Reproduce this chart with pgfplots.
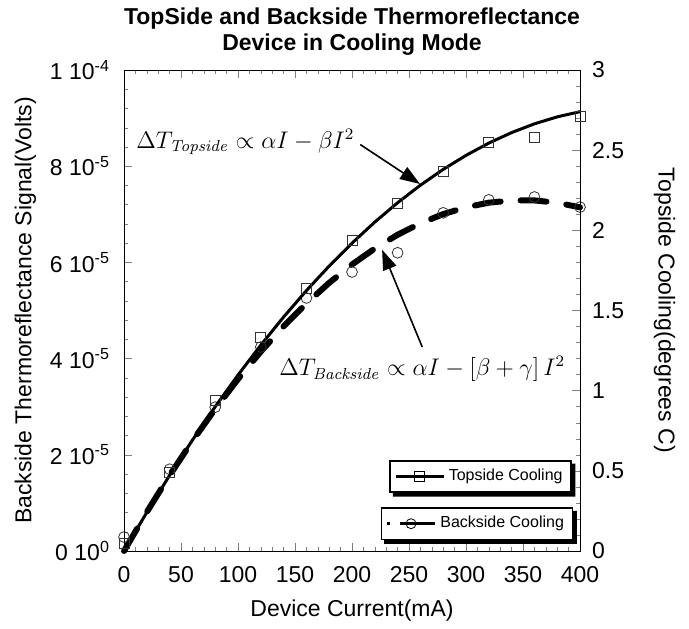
\documentclass[border=0pt]{standalone}
\usepackage[no-math]{fontspec}
\setmainfont{Liberation Sans}
\usepackage{pgfplots}
\pgfplotsset{compat=1.18}
\usetikzlibrary{arrows.meta}

% shared look of the two stacked axes
\pgfplotsset{
  twin/.style={
    scale only axis, width=228pt, height=240.5pt,
    xmin=0, xmax=400, clip=false,
    tick align=inside,
    major tick length=4pt, minor tick length=2pt,
    every tick label/.append style={font=\fontsize{11.5}{13}\selectfont},
    label style={font=\fontsize{11.5}{13}\selectfont},
    /pgf/number format/assume math mode=true,
    legend style={font=\fontsize{8}{9.6}\selectfont, draw=black, line width=0.8pt,
      fill=white, legend cell align=left, inner sep=2.2pt},
    legend image code/.code={\draw[mark repeat=2,mark phase=2,##1]
      plot coordinates {(0cm,0cm) (0.42cm,0cm) (0.84cm,0cm)};},
  },
}
% black offset strips along the right and lower edges of a legend box
\newcommand\legshadow[1]{%
  \fill[black] ([shift={(1.8pt,-1.8pt)}]#1.south west) -- ([shift={(1.8pt,-1.8pt)}]#1.south east)
    -- ([shift={(1.8pt,-1.8pt)}]#1.north east) -- ([yshift=-1.8pt]#1.north east)
    -- (#1.south east) -- ([xshift=1.8pt]#1.south west) -- cycle;}

\begin{document}
\begin{tikzpicture}
% left axis: backside signal, in units of 1e-5 V
\begin{axis}[twin,
  ymin=0, ymax=10, ytick={0,2,4,6,8,10},
  yticklabels={0 10\textsuperscript{0}, 2 10\textsuperscript{-5}, 4 10\textsuperscript{-5},
    6 10\textsuperscript{-5}, 8 10\textsuperscript{-5}, 1 10\textsuperscript{-4}},
  yticklabel style={xshift=-3.5pt},
  xticklabel style={yshift=-4pt},
  ytick pos=left, xtick={0,50,...,400}, xtick pos=both,
  minor x tick num=4, minor y tick num=4,
  xlabel={Device Current(mA)},
  xlabel style={yshift=-2pt},
  ylabel={Backside Thermoreflectance Signal(Volts)},
  title={TopSide and Backside Thermoreflectance\\Device in Cooling Mode},
  title style={align=center, yshift=-2pt, font=\bfseries\fontsize{11.5}{12.8}\selectfont},
  legend style={at={(0.985,0.091)}, anchor=north east, name=legB},
]
\path (rel axis cs:-0.272,-0.162) rectangle (rel axis cs:1.239,1.1455);
% fit curve
\addplot[black, line width=3pt, line cap=round, dash pattern=on 13pt off 10pt, forget plot]
  coordinates {
  (0,0) (20,0.810) (40,1.573) (60,2.287) (80,2.955) (100,3.574) (120,4.146)
  (140,4.670) (160,5.146) (180,5.575) (200,5.956) (220,6.289) (240,6.575)
  (260,6.813) (280,7.003) (300,7.146) (320,7.241) (340,7.288) (360,7.288)
  (380,7.240) (400,7.144)};
\addplot[black!80, only marks, mark=o, mark size=2.7pt, mark options={thin}, forget plot]
  coordinates {
  (0,0.29) (40,1.70) (80,2.99) (120,4.24) (160,5.26) (200,5.80)
  (240,6.20) (280,7.03) (320,7.30) (360,7.36) (400,7.15)};
\addlegendimage{black, line width=1.4pt, dash pattern=on 1.5pt off 5pt on 30pt,
  mark=o, mark size=2.5pt, mark options={solid, thin}}
\addlegendentry{Backside Cooling}
\end{axis}

% right axis: topside cooling in degrees C
\begin{axis}[twin,
  ymin=0, ymax=3, ytick={0,0.5,1,1.5,2,2.5,3}, minor y tick num=4,
  ytick pos=right, yticklabel pos=right, xtick=\empty,
  yticklabel style={xshift=2.5pt},
  ylabel={Topside Cooling(degrees C)},
  ylabel style={rotate=180}, ylabel shift=8pt,
  legend style={at={(0.982,0.189)}, anchor=north east, name=legT},
]
\addplot[black, line width=1.5pt, forget plot] coordinates {
  (0,0) (20,0.2415) (40,0.472) (60,0.6915) (80,0.900) (100,1.0975) (120,1.284)
  (140,1.4595) (160,1.624) (180,1.7775) (200,1.92) (220,2.0515) (240,2.172)
  (260,2.2815) (280,2.38) (300,2.4675) (320,2.544) (340,2.6095) (360,2.664)
  (380,2.7075) (400,2.74)};
\addplot[black!80, only marks, mark=square, mark size=2.5pt, mark options={thin}, forget plot]
  coordinates {
  (0,0.05) (40,0.49) (80,0.94) (120,1.33) (160,1.64) (200,1.94)
  (240,2.17) (280,2.37) (320,2.55) (360,2.58) (400,2.71)};
\addlegendimage{black, line width=1.2pt, mark=square, mark size=2.5pt, mark options={thin}}
\addlegendentry{Topside Cooling}

\node[font=\fontsize{11.5}{13}\selectfont] at (rel axis cs:0.266,0.85)
  {$\Delta T_{\mathit{Topside}} \propto \alpha I - \beta I^{2}$};
\draw[line width=0.8pt, -{Triangle[length=10pt,width=7pt]}]
  (rel axis cs:0.518,0.845) -- (rel axis cs:0.649,0.763);
\node[font=\fontsize{11.5}{13}\selectfont] at (rel axis cs:0.654,0.378)
  {$\Delta T_{\mathit{Backside}} \propto \alpha I - \left[\beta + \gamma\right] I^{2}$};
\draw[line width=0.8pt, -{Triangle[length=10pt,width=7pt]}]
  (rel axis cs:0.654,0.424) -- (rel axis cs:0.566,0.626);
\end{axis}
\legshadow{legB}
\legshadow{legT}
\end{tikzpicture}
\end{document}
